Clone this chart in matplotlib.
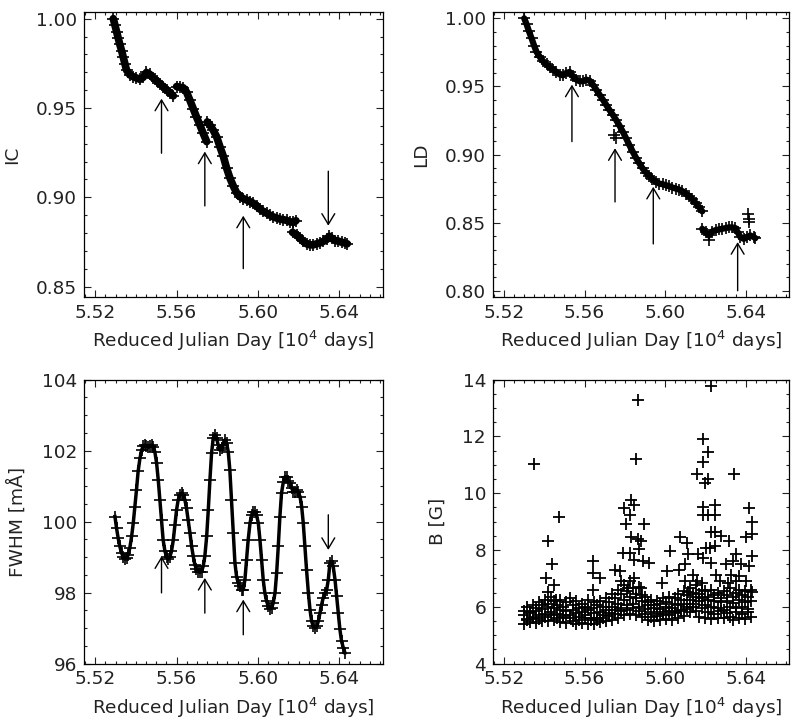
import matplotlib
matplotlib.use('Agg')
import matplotlib.pyplot as plt
from matplotlib.ticker import MultipleLocator, FormatStrFormatter

plt.rcParams['font.family'] = 'DejaVu Sans'
plt.rcParams['mathtext.default'] = 'regular'

# ---- IC (continuum intensity), pieces separated by gaps ----
ic_x1 = [5.5289, 5.5297, 5.5305, 5.5313, 5.5321, 5.5330, 5.5338, 5.5346, 5.5354, 5.5370,
         5.5387, 5.5403, 5.5420, 5.5436, 5.5452, 5.5469, 5.5485, 5.5502, 5.5518, 5.5534,
         5.5551, 5.5567, 5.5584]
ic_y1 = [1.0000, 0.9964, 0.9928, 0.9892, 0.9856, 0.9820, 0.9784, 0.9748, 0.9712, 0.9686,
         0.9675, 0.9668, 0.9660, 0.9672, 0.9699, 0.9688, 0.9668, 0.9653, 0.9635, 0.9620,
         0.9601, 0.9585, 0.9568]
ic_x2 = [5.5600, 5.5616, 5.5633, 5.5649, 5.5666, 5.5682, 5.5698, 5.5715, 5.5731, 5.5748]
ic_y2 = [0.9620, 0.9616, 0.9613, 0.9589, 0.9542, 0.9496, 0.9450, 0.9404, 0.9358, 0.9312]
ic_x3 = [5.5751, 5.5764, 5.5780, 5.5797, 5.5813, 5.5830, 5.5846, 5.5862, 5.5879, 5.5895,
         5.5911, 5.5928, 5.5944, 5.5961, 5.5977, 5.5993, 5.6010, 5.6026, 5.6043, 5.6059,
         5.6075, 5.6092, 5.6108, 5.6125, 5.6141, 5.6157, 5.6174, 5.6187]
ic_y3 = [0.9422, 0.9404, 0.9376, 0.9339, 0.9284, 0.9229, 0.9164, 0.9109, 0.9063, 0.9026,
         0.9004, 0.8993, 0.8985, 0.8976, 0.8967, 0.8952, 0.8934, 0.8921, 0.8911, 0.8900,
         0.8891, 0.8884, 0.8878, 0.8875, 0.8871, 0.8863, 0.8860, 0.8869]
ic_x4 = [5.6170, 5.6190, 5.6207, 5.6223, 5.6239, 5.6256, 5.6272, 5.6289, 5.6305, 5.6321,
         5.6338, 5.6351, 5.6362, 5.6379, 5.6395, 5.6411, 5.6428, 5.6439]
ic_y4 = [0.8804, 0.8790, 0.8771, 0.8753, 0.8740, 0.8734, 0.8734, 0.8740, 0.8745, 0.8753,
         0.8764, 0.8782, 0.8771, 0.8758, 0.8755, 0.8749, 0.8744, 0.8740]

# ---- LD (line depth) ----
ld_x1 = [5.5300, 5.5312, 5.5323, 5.5337, 5.5350, 5.5361, 5.5378, 5.5394, 5.5411, 5.5427,
         5.5444, 5.5460, 5.5477, 5.5493, 5.5509, 5.5526, 5.5542, 5.5559, 5.5575, 5.5592,
         5.5608, 5.5625, 5.5641, 5.5658, 5.5674, 5.5691, 5.5707, 5.5723, 5.5740, 5.5756,
         5.5773, 5.5789, 5.5806, 5.5822, 5.5839, 5.5855, 5.5872, 5.5888, 5.5905, 5.5921,
         5.5937, 5.5954, 5.5970, 5.5987, 5.6003, 5.6020, 5.6036, 5.6053, 5.6069, 5.6086,
         5.6102, 5.6119, 5.6135, 5.6151, 5.6168, 5.6184]
ld_y1 = [1.0000, 0.9956, 0.9907, 0.9852, 0.9796, 0.9754, 0.9715, 0.9685, 0.9661, 0.9641,
         0.9624, 0.9606, 0.9587, 0.9582, 0.9599, 0.9606, 0.9574, 0.9550, 0.9538, 0.9538,
         0.9550, 0.9542, 0.9513, 0.9476, 0.9439, 0.9402, 0.9365, 0.9328, 0.9292, 0.9255,
         0.9213, 0.9169, 0.9119, 0.9070, 0.9021, 0.8977, 0.8935, 0.8898, 0.8868, 0.8844,
         0.8819, 0.8800, 0.8787, 0.8782, 0.8775, 0.8768, 0.8758, 0.8750, 0.8743, 0.8731,
         0.8713, 0.8696, 0.8672, 0.8645, 0.8615, 0.8583]
ld_x2 = [5.6184, 5.6201, 5.6217, 5.6234, 5.6250, 5.6267, 5.6283, 5.6300, 5.6316, 5.6333,
         5.6349, 5.6360, 5.6374, 5.6390, 5.6407, 5.6423, 5.6440, 5.6448]
ld_y2 = [0.8455, 0.8430, 0.8406, 0.8435, 0.8445, 0.8450, 0.8455, 0.8460, 0.8465, 0.8465,
         0.8460, 0.8430, 0.8394, 0.8381, 0.8394, 0.8406, 0.8394, 0.8386]
ld_extra_x = [5.5748, 5.5756, 5.6217, 5.6410, 5.6415, 5.6415]
ld_extra_y = [0.9144, 0.9119, 0.8369, 0.8566, 0.8529, 0.8504]

# ---- FWHM ----
fw_x = [5.5297, 5.5305, 5.5313, 5.5321, 5.5330, 5.5338, 5.5346, 5.5354, 5.5362, 5.5370,
        5.5379, 5.5387, 5.5395, 5.5403, 5.5411, 5.5420, 5.5428, 5.5436, 5.5444, 5.5452,
        5.5461, 5.5469, 5.5477, 5.5485, 5.5493, 5.5502, 5.5510, 5.5518, 5.5526, 5.5534,
        5.5543, 5.5551, 5.5559, 5.5567, 5.5575, 5.5584, 5.5592, 5.5600, 5.5608, 5.5616,
        5.5625, 5.5633, 5.5641, 5.5649, 5.5657, 5.5666, 5.5674, 5.5682, 5.5690, 5.5698,
        5.5707, 5.5715, 5.5723, 5.5731, 5.5739, 5.5748, 5.5756, 5.5764, 5.5772, 5.5780,
        5.5789, 5.5797, 5.5805, 5.5813, 5.5821, 5.5830, 5.5838, 5.5846, 5.5854, 5.5862,
        5.5870, 5.5879, 5.5887, 5.5895, 5.5903, 5.5911, 5.5920, 5.5928, 5.5936, 5.5944,
        5.5952, 5.5961, 5.5969, 5.5977, 5.5985, 5.5993, 5.6002, 5.6010, 5.6018, 5.6026,
        5.6034, 5.6043, 5.6051, 5.6059, 5.6067, 5.6075, 5.6084, 5.6092, 5.6100, 5.6108,
        5.6116, 5.6125, 5.6133, 5.6141, 5.6149, 5.6157, 5.6166, 5.6174, 5.6182, 5.6190,
        5.6198, 5.6207, 5.6215, 5.6223, 5.6231, 5.6239, 5.6248, 5.6256, 5.6264, 5.6272,
        5.6280, 5.6289, 5.6297, 5.6305, 5.6313, 5.6321, 5.6330, 5.6338, 5.6346, 5.6354,
        5.6362, 5.6370, 5.6379, 5.6387, 5.6395, 5.6403, 5.6411, 5.6420, 5.6428]
fw_y = [100.14, 99.81, 99.53, 99.30, 99.11, 99.00, 98.94, 98.96, 99.06, 99.25,
        99.58, 99.95, 100.42, 100.89, 101.41, 101.78, 102.01, 102.13, 102.15, 102.13,
        102.09, 102.13, 102.15, 102.11, 101.97, 101.64, 101.17, 100.61, 100.05, 99.48,
        99.16, 99.00, 98.94, 99.00, 99.16, 99.48, 99.91, 100.33, 100.61, 100.75,
        100.80, 100.75, 100.61, 100.37, 100.05, 99.67, 99.30, 99.02, 98.78, 98.66,
        98.59, 98.57, 98.59, 98.74, 99.02, 99.58, 100.33, 101.17, 101.92, 102.34,
        102.44, 102.34, 102.15, 102.01, 102.06, 102.15, 102.30, 102.20, 101.97, 101.45,
        100.61, 99.67, 98.83, 98.45, 98.27, 98.17, 98.08, 98.08, 98.36, 98.92,
        99.48, 99.95, 100.19, 100.28, 100.28, 100.19, 99.95, 99.48, 98.92, 98.36,
        97.99, 97.75, 97.61, 97.54, 97.56, 97.70, 97.99, 98.55, 99.30, 100.14,
        100.80, 101.12, 101.26, 101.25, 101.15, 101.08, 100.94, 100.84, 100.84, 100.89,
        100.84, 100.70, 100.42, 99.95, 99.30, 98.64, 97.99, 97.52, 97.19, 97.05,
        97.00, 97.05, 97.19, 97.42, 97.66, 97.85, 97.99, 98.08, 98.36, 98.83,
        98.88, 98.74, 98.36, 97.89, 97.42, 96.96, 96.63, 96.44, 96.30]

# ---- B (magnetic field): dense band (three rows) + scattered outliers ----
b_x = [5.5300, 5.5315, 5.5330, 5.5345, 5.5360, 5.5375, 5.5390, 5.5405, 5.5420, 5.5435,
       5.5450, 5.5465, 5.5480, 5.5495, 5.5510, 5.5525, 5.5540, 5.5555, 5.5570, 5.5585,
       5.5600, 5.5615, 5.5630, 5.5645, 5.5660, 5.5675, 5.5690, 5.5705, 5.5720, 5.5735,
       5.5750, 5.5765, 5.5780, 5.5795, 5.5810, 5.5825, 5.5840, 5.5855, 5.5870, 5.5885,
       5.5900, 5.5915, 5.5930, 5.5945, 5.5960, 5.5975, 5.5990, 5.6005, 5.6020, 5.6035,
       5.6050, 5.6065, 5.6080, 5.6095, 5.6110, 5.6125, 5.6140, 5.6155, 5.6170, 5.6185,
       5.6200, 5.6215, 5.6230, 5.6245, 5.6260, 5.6275, 5.6290, 5.6305, 5.6320, 5.6335,
       5.6350, 5.6365, 5.6380, 5.6395, 5.6410, 5.6425]
b_lo = [5.40, 5.55, 5.45, 5.60, 5.42, 5.58, 5.50, 5.65, 5.48, 5.70,
        5.52, 5.62, 5.45, 5.65, 5.42, 5.60, 5.50, 5.38, 5.55, 5.42,
        5.62, 5.40, 5.55, 5.38, 5.52, 5.45, 5.60, 5.48, 5.68, 5.55,
        5.75, 5.62, 5.85, 5.70, 5.90, 5.75, 5.95, 5.70, 5.85, 5.65,
        5.75, 5.55, 5.65, 5.50, 5.68, 5.55, 5.75, 5.58, 5.70, 5.55,
        5.78, 5.62, 5.85, 5.68, 5.92, 5.80, 6.00, 5.85, 5.65, 5.95,
        5.62, 5.80, 5.58, 5.75, 5.62, 5.85, 5.60, 5.78, 5.65, 5.55,
        5.80, 5.62, 5.75, 5.58, 5.82, 5.65]
b_mid = [5.70, 5.58, 5.78, 5.65, 5.85, 5.70, 5.92, 5.75, 6.00, 5.82,
         5.95, 5.75, 5.90, 5.72, 5.85, 5.70, 5.90, 5.78, 5.65, 5.80,
         5.70, 5.88, 5.62, 5.78, 5.60, 5.82, 5.70, 5.90, 5.78, 6.00,
         5.88, 6.10, 5.95, 6.25, 6.05, 6.35, 6.10, 6.30, 6.00, 6.20,
         5.92, 6.05, 5.80, 5.95, 5.75, 5.92, 5.80, 6.00, 5.85, 5.95,
         5.82, 6.05, 5.90, 6.10, 6.00, 6.25, 6.10, 6.35, 6.20, 6.30,
         6.05, 6.25, 6.00, 6.20, 5.95, 6.15, 5.90, 6.20, 5.98, 6.12,
         5.95, 6.22, 6.00, 6.15, 5.92, 6.20]
b_hi = [5.85, 6.00, 5.82, 6.05, 5.95, 6.15, 6.05, 6.25, 6.10, 6.35,
        6.20, 6.05, 6.25, 6.00, 6.15, 6.30, 6.05, 6.20, 5.95, 6.10,
        6.00, 6.25, 5.95, 6.15, 6.05, 6.20, 6.00, 6.30, 6.15, 6.45,
        6.30, 6.60, 6.45, 6.75, 6.55, 6.90, 6.65, 6.45, 6.70, 6.40,
        6.35, 6.15, 6.25, 6.05, 6.20, 6.10, 6.30, 6.15, 6.35, 6.10,
        6.30, 6.45, 6.25, 6.55, 6.40, 6.65, 6.50, 6.75, 6.45, 6.60,
        6.55, 6.35, 6.60, 6.40, 6.50, 6.30, 6.55, 6.40, 6.65, 6.35,
        6.50, 6.60, 6.40, 6.55, 6.35, 6.60]
b_out_x = [5.5351, 5.5416, 5.5437, 5.5408, 5.5416, 5.5449, 5.5473, 5.5460, 5.5644, 5.5644,
           5.5676, 5.5644, 5.5750, 5.5774, 5.5798, 5.5806, 5.5823, 5.5831, 5.5847, 5.5855,
           5.5863, 5.5831, 5.5823, 5.5790, 5.5863, 5.5880, 5.5896, 5.5888, 5.5920, 5.5847,
           5.5871, 5.5782, 5.5815, 5.5847, 5.5880, 5.5985, 5.6010, 5.6026, 5.6076, 5.6107,
           5.6067, 5.6099, 5.6099, 5.6140, 5.6115, 5.6156, 5.6115, 5.6164, 5.6189, 5.6189,
           5.6213, 5.6197, 5.6213, 5.6189, 5.6189, 5.6213, 5.6246, 5.6246, 5.6229, 5.6246,
           5.6205, 5.6221, 5.6246, 5.6229, 5.6189, 5.6278, 5.6319, 5.6340, 5.6351, 5.6335,
           5.6376, 5.6302, 5.6327, 5.6368, 5.6400, 5.6416, 5.6429, 5.6429, 5.6429, 5.6416,
           5.6400, 5.6429, 5.6351, 5.6311, 5.6254, 5.6270, 5.6156, 5.6181, 5.6229]
b_out_y = [11.02, 8.32, 7.49, 7.01, 6.53, 6.77, 9.16, 6.23, 7.60, 7.19,
           7.01, 6.59, 7.31, 7.25, 9.46, 8.92, 9.22, 9.76, 9.58, 11.20,
           13.29, 8.44, 7.90, 7.90, 8.38, 8.32, 8.92, 7.60, 7.54, 7.66,
           8.02, 6.89, 6.65, 7.01, 6.65, 6.83, 7.25, 7.96, 8.44, 8.26,
           7.31, 7.49, 6.89, 7.13, 6.53, 10.66, 7.84, 7.84, 11.92, 11.08,
           11.44, 10.36, 10.48, 9.52, 9.22, 9.22, 9.58, 9.22, 8.62, 8.62,
           8.08, 8.08, 8.14, 7.54, 7.72, 8.50, 8.32, 10.66, 7.84, 7.60,
           7.49, 7.49, 7.13, 7.07, 8.44, 9.46, 8.98, 8.56, 7.78, 7.43,
           6.89, 6.53, 6.89, 6.83, 7.13, 6.89, 6.89, 6.83, 13.77]

# ---- arrows: x position, tail y, head y ----
arrow_x = [5.5526, 5.5739, 5.5928, 5.6346]
ic_tail = [0.9247, 0.8952, 0.8601, 0.9146]
ic_head = [0.9552, 0.9256, 0.8897, 0.8841]
ld_arrow_x = [5.5537, 5.5751, 5.5941, 5.6360]
ld_tail = [0.9095, 0.8652, 0.8344, 0.8000]
ld_head = [0.9513, 0.9046, 0.8763, 0.8357]
fw_tail = [97.99, 97.42, 96.81, 100.19]
fw_head = [99.02, 98.41, 97.80, 99.20]

xlabel = 'Reduced Julian Day [10$^4$ days]'
fs = 13.3
txt = '#222222'


def style(ax, ylim, ymaj, ymin, yfmt, ylabel):
    ax.set_xlim(5.5145, 5.6615)
    ax.set_ylim(*ylim)
    ax.xaxis.set_major_locator(MultipleLocator(0.04))
    ax.xaxis.set_minor_locator(MultipleLocator(0.005))
    ax.xaxis.set_major_formatter(FormatStrFormatter('%.2f'))
    ax.yaxis.set_major_locator(MultipleLocator(ymaj))
    ax.yaxis.set_minor_locator(MultipleLocator(ymin))
    ax.yaxis.set_major_formatter(FormatStrFormatter(yfmt))
    ax.tick_params(which='both', direction='in', top=True, right=True, width=0.8,
                   labelsize=fs, colors=txt)
    ax.tick_params(which='major', length=5, pad=5)
    ax.tick_params(which='minor', length=2.5)
    for s in ax.spines.values():
        s.set_linewidth(0.9)
    ax.set_xlabel(xlabel, fontsize=fs, color=txt, labelpad=5)
    ax.set_ylabel(ylabel, fontsize=fs, color=txt, labelpad=11)


def arrows(ax, xs, tails, heads):
    for x, t, h in zip(xs, tails, heads):
        ax.annotate('', xy=(x, h), xytext=(x, t),
                    arrowprops=dict(arrowstyle='->,head_length=0.55,head_width=0.33',
                                    lw=1.0, color='black', shrinkA=0, shrinkB=0,
                                    mutation_scale=14))


fig = plt.figure(figsize=(7.94, 7.25), dpi=100)
ax1 = fig.add_axes([0.1058, 0.5903, 0.3766, 0.3931])
ax2 = fig.add_axes([0.6209, 0.5903, 0.3728, 0.3931])
ax3 = fig.add_axes([0.1058, 0.0848, 0.3766, 0.3917])
ax4 = fig.add_axes([0.6209, 0.0848, 0.3728, 0.3917])

pk = dict(color='black', marker='+', markersize=8, markeredgewidth=1.2)

# IC
for xs, ys in [(ic_x1, ic_y1), (ic_x2, ic_y2), (ic_x3, ic_y3), (ic_x4, ic_y4)]:
    ax1.plot(xs, ys, lw=5.5, solid_capstyle='round', **pk)
arrows(ax1, arrow_x, ic_tail, ic_head)
style(ax1, (0.8442, 1.0037), 0.05, 0.01, '%.2f', 'IC')

# LD
for xs, ys in [(ld_x1, ld_y1), (ld_x2, ld_y2)]:
    ax2.plot(xs, ys, lw=4.5, solid_capstyle='round', **pk)
ax2.plot(ld_extra_x, ld_extra_y, ls='none', **pk)
arrows(ax2, ld_arrow_x, ld_tail, ld_head)
style(ax2, (0.7954, 1.0046), 0.05, 0.01, '%.2f', 'LD')

# FWHM
ax3.plot(fw_x, fw_y, lw=2.5, **pk)
arrows(ax3, arrow_x, fw_tail, fw_head)
style(ax3, (96, 104), 2, 0.5, '%d', 'FWHM [mÅ]')

# B
mk = dict(color='black', marker='+', ls='none', markersize=8.5, markeredgewidth=1.3)
ax4.plot(b_x, b_lo, **mk)
ax4.plot(b_x, b_mid, **mk)
ax4.plot(b_x, b_hi, **mk)
ax4.plot(b_out_x, b_out_y, **mk)
style(ax4, (4, 14), 2, 0.5, '%d', 'B [G]')

fig.savefig('out.png', dpi=100)
